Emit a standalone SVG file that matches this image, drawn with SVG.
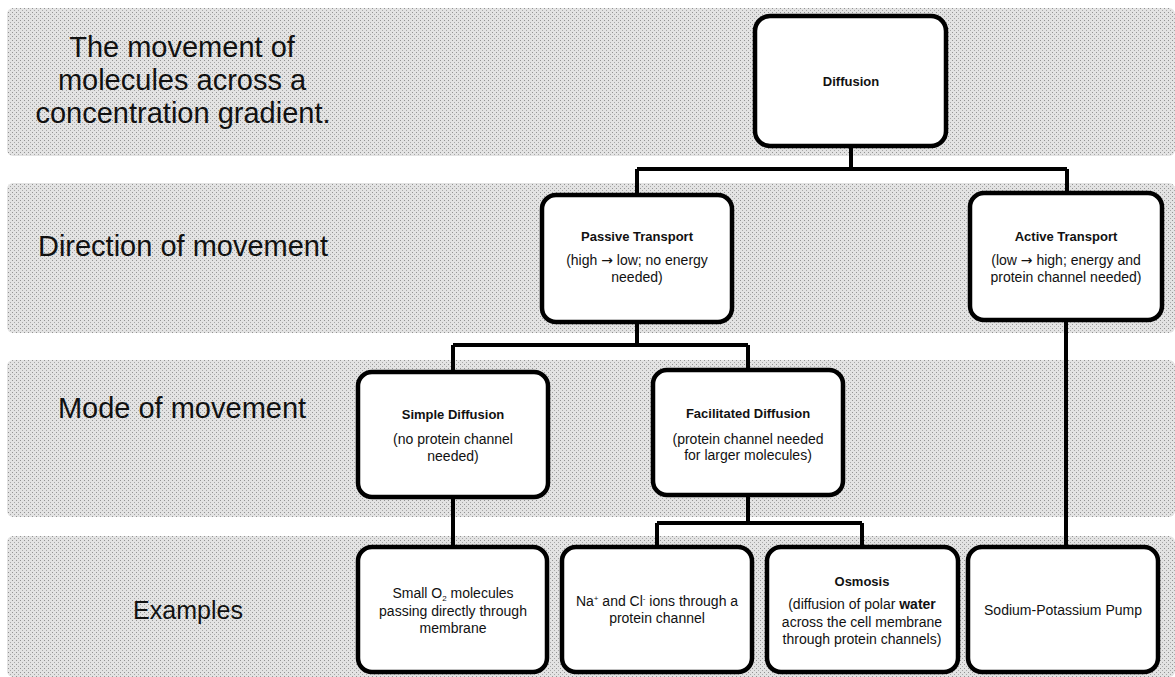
<svg xmlns="http://www.w3.org/2000/svg" width="1175" height="677" viewBox="0 0 1175 677">
<defs>
<pattern id="stip" width="4" height="4" patternUnits="userSpaceOnUse">
<rect width="4" height="4" fill="#e3e3e3"/>
<rect x="0" y="0" width="1" height="1" fill="#939393"/>
<rect x="2" y="2" width="1" height="1" fill="#a8a8a8"/>
</pattern>
</defs>
<style>
.band{fill:url(#stip);}
.box{fill:#ffffff;stroke:#000;stroke-width:4.5;}
.conn{fill:none;stroke:#000;stroke-width:4;}
.lbl{font-family:"Liberation Sans",Arial,sans-serif;font-size:29px;fill:#111;text-anchor:middle;}
.t{font-family:"Liberation Sans",Arial,sans-serif;font-size:13px;fill:#111;text-anchor:middle;font-weight:bold;}
.s{font-family:"Liberation Sans",Arial,sans-serif;font-size:14px;fill:#111;text-anchor:middle;}
.ar{font-family:"DejaVu Sans",sans-serif;font-size:14px;}
</style>
<rect width="1175" height="677" fill="#ffffff"/>
<g id="bands">
<rect class="band" x="7" y="8" width="1168" height="148" rx="6"/>
<rect class="band" x="7" y="183" width="1168" height="150" rx="6"/>
<rect class="band" x="7" y="360" width="1168" height="157" rx="6"/>
<rect class="band" x="7" y="536" width="1168" height="141" rx="6"/>
</g>
<g id="row-labels">
<text class="lbl" x="182" y="57">The movement of</text>
<text class="lbl" x="182" y="90">molecules across a</text>
<text class="lbl" x="183" y="123">concentration gradient.</text>
<text class="lbl" x="183" y="256">Direction of movement</text>
<text class="lbl" x="182" y="418">Mode of movement</text>
<text class="lbl" x="188" y="619" style="font-size:25px">Examples</text>
</g>
<g id="connectors">
<path class="conn" d="M851,146 V169 M637,169 H1067 M637,169 V195 M1067,169 V193"/>
<path class="conn" d="M637,322 V345 M453,345 H748 M453,345 V372 M748,345 V370"/>
<path class="conn" d="M453,497 V547"/>
<path class="conn" d="M748,495 V523 M657,523 H862 M657,523 V547 M862,523 V547"/>
<path class="conn" d="M1066,320 V547"/>
</g>
<g id="diffusion">
<rect class="box" x="755" y="16" width="191" height="130" rx="15"/>
<text class="t" x="851" y="86">Diffusion</text>
</g>
<g id="passive">
<rect class="box" x="542" y="195" width="190" height="127" rx="14"/>
<text class="t" x="637" y="241">Passive Transport</text>
<text class="s" x="637" y="265">(high <tspan class="ar">→</tspan> low; no energy</text>
<text class="s" x="637" y="282">needed)</text>
</g>
<g id="active">
<rect class="box" x="970" y="193" width="192" height="127" rx="14"/>
<text class="t" x="1066" y="241">Active Transport</text>
<text class="s" x="1066" y="265">(low <tspan class="ar">→</tspan> high; energy and</text>
<text class="s" x="1066" y="282">protein channel needed)</text>
</g>
<g id="simple">
<rect class="box" x="358" y="372" width="190" height="125" rx="14"/>
<text class="t" x="453" y="419">Simple Diffusion</text>
<text class="s" x="453" y="444">(no protein channel</text>
<text class="s" x="453" y="461">needed)</text>
</g>
<g id="facilitated">
<rect class="box" x="653" y="370" width="190" height="125" rx="14"/>
<text class="t" x="748" y="418">Facilitated Diffusion</text>
<text class="s" x="748" y="444">(protein channel needed</text>
<text class="s" x="748" y="460">for larger molecules)</text>
</g>
<g id="oxygen">
<rect class="box" x="358" y="547" width="189" height="125" rx="14"/>
<text class="s" x="453" y="598">Small O<tspan style="font-size:8px" dy="3">2</tspan><tspan dy="-3"> molecules</tspan></text>
<text class="s" x="453" y="616">passing directly through</text>
<text class="s" x="453" y="633">membrane</text>
</g>
<g id="ions">
<rect class="box" x="562" y="547" width="190" height="125" rx="14"/>
<text class="s" x="657" y="606">Na<tspan style="font-size:8px" dy="-5">+</tspan><tspan dy="5"> and Cl</tspan><tspan style="font-size:8px" dy="-5">-</tspan><tspan dy="5"> ions through a</tspan></text>
<text class="s" x="657" y="623">protein channel</text>
</g>
<g id="osmosis">
<rect class="box" x="767" y="547" width="191" height="125" rx="14"/>
<text class="t" x="862" y="586">Osmosis</text>
<text class="s" x="862" y="609">(diffusion of polar <tspan style="font-weight:bold">water</tspan></text>
<text class="s" x="862" y="627">across the cell membrane</text>
<text class="s" x="862" y="644">through protein channels)</text>
</g>
<g id="pump">
<rect class="box" x="968" y="547" width="190" height="125" rx="14"/>
<text class="s" x="1063" y="615">Sodium-Potassium Pump</text>
</g>
</svg>
